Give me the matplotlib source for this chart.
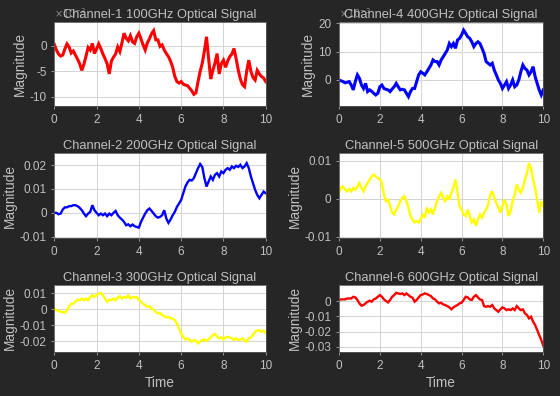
import numpy as np
import matplotlib
matplotlib.use("Agg")
import matplotlib.pyplot as plt

t = np.linspace(0, 10, 101)

ch1 = [0.3, -0.8, -1.6, -2.0, -1.8, -0.6, 0.4, -0.2, -1.4, -1.0,
       -1.8, -2.6, -3.5, -4.8, -3.6, -2.0, -0.3, -0.8, 0.5, -1.5,
       -0.6, 0.4, -0.5, -1.6, -2.5, -3.5, -5.5, -3.0, -2.2, -1.6,
       -0.2, -1.1, 0.6, 2.5, 1.5, 1.0, 2.0, 0.8, 0.5, 1.8,
       2.5, 1.4, 0.2, -0.8, 0.6, 1.4, 2.4, 3.0, 1.2, 1.2,
       -0.1, 0.2, -0.8, -1.5, -2.1, -3.0, -4.2, -6.0, -7.0, -7.3,
       -7.0, -7.5, -7.7, -7.8, -8.3, -8.8, -9.5, -9.2, -7.0, -5.0,
       -3.4, -1.0, 1.8, -2.5, -6.5, -4.8, -3.4, -1.5, -5.5, -3.5,
       -2.8, -4.2, -3.0, -2.1, -1.6, -0.5, -2.5, -4.7, -6.5, -7.6,
       -8.0, -5.0, -2.8, -5.0, -6.2, -6.7, -4.8, -5.5, -6.0, -6.3, -7.0]

ch2 = [0, 0, -0.6, -0.3, 1.4, 2.3, 2.3, 2.8, 2.8, 3.2,
       3.2, 2.8, 2.1, 1.1, -0.3, -1.4, -0.3, 0.4, 3.2, 1.1,
       0, -1.0, -0.3, -1.0, -0.3, -1.4, -0.3, -1.0, 0, 0.8,
       -1.0, -2.0, -2.8, -3.8, -5.2, -4.8, -5.6, -4.9, -5.6, -5.9,
       -6.2, -3.8, -2.0, -0.3, 1.1, 1.8, 0.8, -0.3, -1.4, -2.0,
       -1.7, -1.0, 1.1, -2.4, -4.2, -2.8, -1.0, 0.4, 2.5, 3.9,
       5.4, 8.2, 11.0, 12.7, 13.8, 13.5, 14.5, 16.6, 18.7, 20.4,
       19.2, 14.5, 11.0, 13.1, 15.2, 13.8, 15.9, 16.6, 15.2, 17.3,
       16.6, 18.0, 18.7, 18.0, 19.4, 18.7, 19.7, 19.2, 20.1, 18.7,
       19.4, 20.8, 18.7, 15.2, 12.4, 9.6, 7.5, 6.1, 7.5, 8.9, 8.2]

ch3 = [0.4, -0.6, -1.0, -1.7, -1.7, -2.3, -0.6, 1.5, 3.5, 3.5,
       4.6, 6.0, 5.6, 6.7, 5.6, 6.7, 5.6, 7.7, 8.8, 7.7,
       8.8, 9.8, 10.2, 8.8, 6.7, 4.6, 6.0, 5.6, 6.7, 5.6,
       7.3, 8.1, 6.7, 7.7, 7.3, 8.8, 6.7, 7.7, 7.3, 7.7,
       6.0, 4.6, 3.5, 2.5, 1.5, 1.9, 0.4, -0.2, -1.7, -2.7,
       -2.3, -3.8, -4.4, -5.2, -4.8, -5.8, -5.8, -6.9, -9.0, -12.1,
       -15.2, -17.7, -19.0, -18.3, -19.4, -20.4, -19.4, -19.8, -21.5, -20.4,
       -19.4, -19.0, -20.0, -19.0, -17.7, -16.3, -15.6, -17.3, -18.3, -17.7,
       -19.0, -17.7, -17.3, -17.7, -18.3, -19.4, -18.3, -19.4, -19.0, -18.3,
       -19.8, -20.4, -18.3, -17.7, -16.3, -14.2, -13.5, -13.1, -14.2, -13.5, -14.8]

ch4 = [0.0, -0.3, -0.6, -1.0, -0.8, -0.6, -1.8, -3.5, -0.5, 1.8,
       0.6, -1.8, -3.0, -1.2, -4.1, -3.5, -4.0, -4.7, -5.3, -4.7,
       -2.4, -1.8, -3.0, -3.3, -3.5, -4.1, -3.2, -2.4, -1.2, -2.4,
       -3.5, -3.3, -3.5, -4.7, -5.9, -4.1, -3.0, -3.0, -0.6, 1.8,
       2.9, 2.4, 1.8, 2.9, 4.1, 5.3, 7.1, 6.5, 6.5, 5.3,
       7.1, 8.2, 9.4, 10.6, 12.9, 11.8, 12.9, 11.2, 14.1, 14.7,
       15.9, 17.6, 16.5, 15.3, 14.7, 13.5, 11.8, 12.9, 13.5, 12.9,
       11.2, 9.4, 6.5, 5.9, 5.3, 5.9, 3.5, 1.8, 0.0, -1.2,
       -3.0, -1.8, -0.6, -3.0, -1.8, 0.0, -2.4, -1.8, 0.0, 2.9,
       5.3, 4.1, 3.5, 1.8, 2.9, 4.7, 1.2, -1.2, -3.5, -5.3, -3.5]

ch5 = [1.5, 2.8, 3.2, 2.3, 1.9, 2.5, 1.9, 2.8, 2.3, 3.2,
       4.1, 2.8, 1.9, 3.2, 4.1, 5.0, 5.8, 6.3, 5.8, 5.4,
       5.0, 4.1, 1.0, -0.7, -0.3, -2.0, -3.7, -4.2, -2.9, -2.0,
       -0.7, 0.2, 0.6, -0.7, -2.4, -4.6, -5.5, -6.3, -5.9, -6.3,
       -5.5, -4.2, -5.0, -2.4, -3.7, -2.9, -4.2, -2.4, -0.7, 0.6,
       1.5, 0.2, -0.7, 0.6, -0.3, 1.5, 2.8, 5.0, 1.9, -2.0,
       -2.9, -4.2, -4.6, -2.9, -4.6, -6.3, -5.5, -7.2, -5.5, -4.2,
       -5.0, -3.7, -2.9, -1.6, 1.0, 1.9, 0.2, -1.1, -2.4, -3.7,
       -2.0, -0.3, -1.6, -4.6, -3.3, -0.7, 1.0, 3.7, 2.3, 1.5,
       2.8, 5.0, 6.7, 9.3, 8.0, 5.0, 2.8, -0.3, -3.7, -0.7, -2.0]

ch6 = [0.7, 1.1, 1.1, 1.1, 1.7, 1.7, 1.7, 2.8, 2.4, 0.7,
       -1.5, -3.0, -2.6, -1.5, -0.4, 0.2, -0.4, 1.1, 1.7, 2.8,
       3.9, 2.8, 1.1, 0.0, -0.9, 0.7, 2.8, 3.9, 5.4, 5.0,
       4.6, 5.0, 3.9, 5.0, 3.9, 2.8, 2.2, -0.4, 0.7, 2.4,
       3.9, 4.3, 5.0, 4.6, 3.9, 3.3, 1.7, 1.1, -0.4, -1.5,
       -1.1, -2.2, -2.6, -3.3, -4.1, -5.4, -4.1, -3.3, -2.6, -1.5,
       -1.1, 0.7, 2.8, 2.4, 1.1, 0.7, 2.8, 3.9, 2.4, 1.1,
       0.7, -3.3, -3.7, -3.3, -3.7, -2.6, -4.8, -5.9, -7.0, -5.4,
       -4.1, -4.8, -5.9, -5.4, -5.9, -4.8, -5.9, -3.3, -4.8, -5.9,
       -5.4, -8.0, -9.1, -11.3, -10.2, -13.5, -15.7, -18.9, -22.2, -25.4, -29.3]

titles = ["Channel-1 100GHz Optical Signal", "Channel-2 200GHz Optical Signal",
          "Channel-3 300GHz Optical Signal", "Channel-4 400GHz Optical Signal",
          "Channel-5 500GHz Optical Signal", "Channel-6 600GHz Optical Signal"]
colors = ["#ff0000", "#0000ff", "#ffff00", "#0000ff", "#ffff00", "#ff0000"]
scales = [1.0, 1e-3, 1e-3, 1.0, 1e-3, 1e-3]   # ch1, ch4 shown in units of 1e-3
ylims = [(-11.8, 4.7), (-0.0104, 0.0249), (-0.0267, 0.0152),
         (-9.2, 20.5), (-0.0103, 0.0119), (-0.0331, 0.0105)]
yticks = [[-10, -5, 0], [-0.01, 0, 0.01, 0.02], [-0.02, -0.01, 0, 0.01],
          [0, 10, 20], [-0.01, 0, 0.01], [-0.03, -0.02, -0.01, 0]]
ytlabels = [["-10", "-5", "0"], ["-0.01", "0", "0.01", "0.02"],
            ["-0.02", "-0.01", "0", "0.01"], ["0", "10", "20"],
            ["-0.01", "0", "0.01"], ["-0.03", "-0.02", "-0.01", "0"]]
xticks = [0, 2, 4, 6, 8, 10]
series = [ch1, ch2, ch3, ch4, ch5, ch6]

plt.rcParams['font.family'] = ['Liberation Sans', 'DejaVu Sans']
bg = "#262626"
txt = "#c0c0c0"
fig = plt.figure(figsize=(5.6, 3.96), dpi=100, facecolor=bg)

W, H = 560, 396
cols = [(54.3, 265.7), (339.0, 543.3)]
rows = [(22.0, 106.0), (153.3, 237.7), (285.0, 351.7)]

for i in range(6):
    c = i // 3
    r = i % 3
    x0, x1 = cols[c]
    y0, y1 = rows[r]
    ax = fig.add_axes([x0 / W, 1 - y1 / H, (x1 - x0) / W, (y1 - y0) / H])
    ax.set_facecolor("white")
    y = np.array(series[i]) * scales[i]
    lw = 2.2 if i in (0, 3) else 1.7
    ax.plot(t, y, color=colors[i], lw=lw, solid_joinstyle='miter')
    ax.set_xlim(0, 10)
    ax.set_ylim(*ylims[i])
    ax.set_xticks(xticks)
    ax.set_xticklabels([str(v) for v in xticks])
    ax.set_yticks(yticks[i])
    ax.set_yticklabels(ytlabels[i])
    ax.grid(True, color="#d4d4d4", lw=0.7)
    ax.set_axisbelow(True)
    ax.tick_params(colors=txt, labelcolor=txt, labelsize=8.5, length=2, width=0.5)
    ax.tick_params(axis='x', pad=4)
    for s in ax.spines.values():
        s.set_color("#5a5a5a")
        s.set_linewidth(0.6)
    ax.set_title(titles[i], color=txt, fontsize=9.3, pad=3)
    ax.set_ylabel("Magnitude", color=txt, fontsize=9.8, labelpad=2)
    if r == 2:
        ax.set_xlabel("Time", color=txt, fontsize=9.8, labelpad=3)
    if scales[i] == 1.0:
        ax.text(0.0, 1.02, r"$\times10^{-3}$", transform=ax.transAxes,
                color="#8a8a8a", fontsize=7, ha="left", va="bottom")

fig.savefig("out.png", dpi=100, facecolor=bg)
